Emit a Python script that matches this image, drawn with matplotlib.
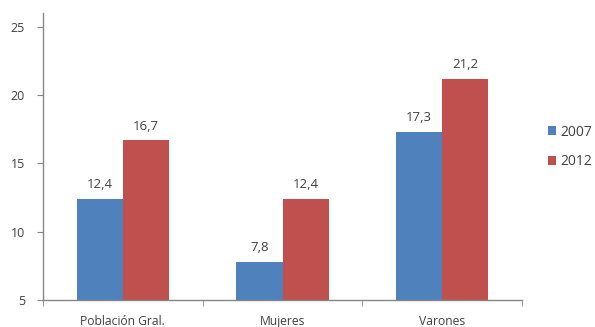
import matplotlib
matplotlib.use("Agg")
import matplotlib.pyplot as plt
import numpy as np

categories = ["Población Gral.", "Mujeres", "Varones"]
series_names = ["2007", "2012"]
values_2007 = [12.4, 7.8, 17.3]
values_2012 = [16.7, 12.4, 21.2]
y_ticks = [5, 10, 15, 20, 25]

colors = ["#4F81BD", "#C0504D"]
text_color = "#404040"
axis_color = "#868686"

plt.rcParams["font.family"] = ["Open Sans", "DejaVu Sans"]

fig = plt.figure(figsize=(5.95, 3.27), dpi=100)
ax = fig.add_axes([43 / 595, 27 / 327, (522 - 43) / 595, (300 - 13) / 327])

x = np.arange(len(categories))
width = 0.29
for i, (name, vals) in enumerate(zip(series_names, [values_2007, values_2012])):
    offs = (i - 0.5) * width
    ax.bar(x + offs, np.array(vals) - 5, width, bottom=5, color=colors[i],
           label=name, zorder=2)
    for xi, v in zip(x + offs, vals):
        ax.text(xi, v + 0.55, f"{v:.1f}".replace(".", ","), ha="center", va="bottom",
                fontsize=9.5, color=text_color)

ax.set_xlim(-0.5, len(categories) - 0.5)
ax.set_ylim(5, 26)
ax.set_yticks(y_ticks)
ax.set_yticklabels([str(t) for t in y_ticks], fontsize=9, color=text_color)

ax.set_xticks(x)
ax.set_xticklabels(categories, fontsize=8.7, color=text_color)
ax.tick_params(axis="x", length=0, pad=11)
ax.set_xticks(np.arange(-0.5, len(categories) + 0.5, 1), minor=True)
ax.tick_params(axis="x", which="minor", length=4, color=axis_color, direction="out")
ax.tick_params(axis="y", length=4, color=axis_color, direction="out", pad=9)

for s in ["top", "right"]:
    ax.spines[s].set_visible(False)
for s in ["left", "bottom"]:
    ax.spines[s].set_color(axis_color)
    ax.spines[s].set_linewidth(1.0)

leg = fig.legend(loc="center left", bbox_to_anchor=(541 / 595, 1 - 147 / 327),
                 frameon=False, fontsize=10, handlelength=0.6, handleheight=0.6,
                 handletextpad=0.3, labelspacing=1.05, borderpad=0)
for t in leg.get_texts():
    t.set_color(text_color)

fig.savefig("out.png", dpi=100)
